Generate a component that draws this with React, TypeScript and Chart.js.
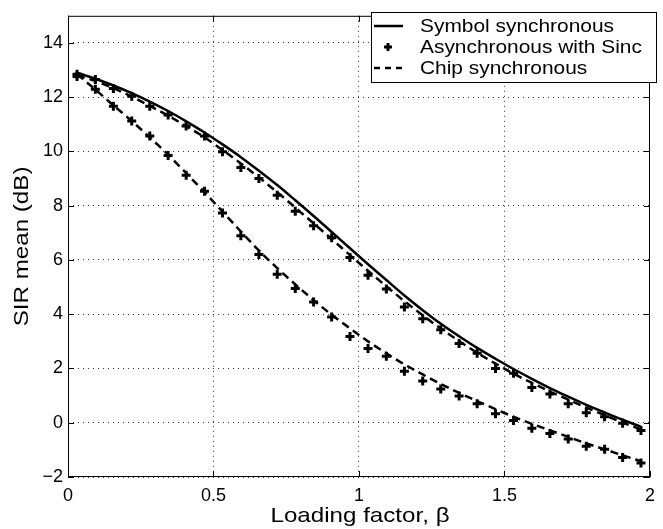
import React, { useEffect, useRef } from 'react';
import { Chart, registerables } from 'chart.js';

Chart.register(...registerables);

// Loading factor (beta) sample positions
const betaValues = [
  0.031, 0.094, 0.156, 0.219, 0.281, 0.344, 0.406, 0.469, 0.531, 0.594, 0.656, 0.719, 0.781, 0.844, 0.906, 0.969,
  1.031, 1.094, 1.156, 1.219, 1.281, 1.344, 1.406, 1.469, 1.531, 1.594, 1.656, 1.719, 1.781, 1.844, 1.906, 1.969,
];

// Symbol synchronous (solid)
const symbolSync = [
  12.9, 12.68, 12.43, 12.15, 11.84, 11.49, 11.11, 10.7, 10.26, 9.79, 9.29, 8.76, 8.2, 7.62, 7.03, 6.43,
  5.84, 5.26, 4.69, 4.15, 3.65, 3.19, 2.76, 2.36, 1.98, 1.62, 1.28, 0.96, 0.66, 0.38, 0.11, -0.15,
];

// Asynchronous with Sinc (markers), upper and lower families
const asyncUpper = [
  12.76, 12.65, 12.32, 12.03, 11.67, 11.34, 10.94, 10.57, 9.99, 9.41, 9.0, 8.39, 7.8, 7.26, 6.82, 6.09,
  5.44, 4.93, 4.27, 3.83, 3.43, 2.92, 2.56, 2.0, 1.82, 1.3, 1.06, 0.7, 0.37, 0.22, -0.02, -0.29,
];
const asyncLower = [
  12.85, 12.29, 11.67, 11.12, 10.57, 9.85, 9.12, 8.53, 7.73, 6.89, 6.2, 5.47, 4.95, 4.45, 3.9, 3.18,
  2.74, 2.45, 1.9, 1.54, 1.24, 0.99, 0.7, 0.33, 0.08, -0.2, -0.4, -0.6, -0.87, -0.98, -1.28, -1.48,
];

// Chip synchronous (dashed), upper and lower families
const chipUpper = [
  12.8, 12.6, 12.33, 12.02, 11.68, 11.32, 10.93, 10.52, 10.05, 9.56, 9.04, 8.5, 7.93, 7.35, 6.77, 6.18,
  5.6, 5.03, 4.48, 3.96, 3.47, 3.01, 2.58, 2.18, 1.81, 1.47, 1.15, 0.85, 0.56, 0.28, 0.01, -0.25,
];
const chipLower = [
  12.85, 12.28, 11.7, 11.12, 10.52, 9.88, 9.2, 8.5, 7.78, 7.05, 6.35, 5.7, 5.1, 4.52, 3.98, 3.48,
  3.0, 2.56, 2.15, 1.78, 1.43, 1.1, 0.8, 0.5, 0.22, -0.04, -0.28, -0.52, -0.76, -0.98, -1.2, -1.42,
];

const xTicks = [0, 0.5, 1, 1.5, 2];
const yTicks = [-2, 0, 2, 4, 6, 8, 10, 12, 14];
const legendLabels = ['Symbol synchronous', 'Asynchronous with Sinc', 'Chip synchronous'];
const xTitle = 'Loading factor, \u03B2';
const yTitle = 'SIR mean (dB)';

const FONT = '"Liberation Sans", Arial, Helvetica, sans-serif';

const toPoints = (ys: number[]) => betaValues.map((x, i) => ({ x, y: ys[i] }));

const decorPlugin = {
  id: 'decor',
  afterDraw(chart: any) {
    const { ctx, chartArea } = chart;
    const { left, right, top, bottom } = chartArea;
    const xs = chart.scales.x;
    const ys = chart.scales.y;
    ctx.save();
    // frame
    ctx.strokeStyle = '#000';
    ctx.lineWidth = 1;
    ctx.setLineDash([]);
    ctx.strokeRect(left + 0.5, top + 0.5, right - left - 1, bottom - top - 1);
    // inward ticks
    const tl = 6;
    ctx.beginPath();
    xTicks.forEach((v) => {
      const px = Math.round(xs.getPixelForValue(v)) + 0.5;
      ctx.moveTo(px, bottom);
      ctx.lineTo(px, bottom - tl);
      ctx.moveTo(px, top);
      ctx.lineTo(px, top + tl);
    });
    yTicks.forEach((v) => {
      const py = Math.round(ys.getPixelForValue(v)) + 0.5;
      ctx.moveTo(left, py);
      ctx.lineTo(left + tl, py);
      ctx.moveTo(right, py);
      ctx.lineTo(right - tl, py);
    });
    ctx.stroke();

    // legend
    const bx = 371, by = 12, bw = 285, bh = 70;
    ctx.fillStyle = '#fff';
    ctx.fillRect(bx, by, bw, bh);
    ctx.strokeStyle = '#000';
    ctx.lineWidth = 1;
    ctx.strokeRect(bx + 0.5, by + 0.5, bw, bh);
    const rows = [26, 47, 68];
    ctx.lineWidth = 2.5;
    // row 1 solid line
    ctx.beginPath();
    ctx.moveTo(374, rows[0]);
    ctx.lineTo(403, rows[0]);
    ctx.stroke();
    // row 2 cross marker
    ctx.lineWidth = 3;
    ctx.beginPath();
    ctx.moveTo(388 - 4, rows[1]);
    ctx.lineTo(388 + 4, rows[1]);
    ctx.moveTo(388, rows[1] - 4);
    ctx.lineTo(388, rows[1] + 4);
    ctx.stroke();
    // row 3 dashed line
    ctx.lineWidth = 2.5;
    ctx.setLineDash([6, 5]);
    ctx.beginPath();
    ctx.moveTo(374, rows[2]);
    ctx.lineTo(405, rows[2]);
    ctx.stroke();
    ctx.setLineDash([]);
    // legend text
    ctx.fillStyle = '#000';
    ctx.font = `19px ${FONT}`;
    ctx.textBaseline = 'middle';
    ctx.textAlign = 'left';
    legendLabels.forEach((t, i) => {
      ctx.save();
      ctx.translate(420, rows[i] + 1);
      ctx.scale(1.1, 1);
      ctx.fillText(t, 0, 0);
      ctx.restore();
    });

    // axis titles
    ctx.font = `21px ${FONT}`;
    ctx.textBaseline = 'alphabetic';
    ctx.textAlign = 'center';
    ctx.save();
    ctx.translate((left + right) / 2 + 1, 522);
    ctx.scale(1.15, 1);
    ctx.fillText(xTitle, 0, 0);
    ctx.restore();

    ctx.save();
    ctx.translate(28, (top + bottom) / 2);
    ctx.rotate(-Math.PI / 2);
    ctx.scale(1.15, 1);
    ctx.fillText(yTitle, 0, 0);
    ctx.restore();

    ctx.restore();
  },
};

export default function App() {
  const canvasRef = useRef<HTMLCanvasElement | null>(null);

  useEffect(() => {
    document.body.style.margin = '0';
    const canvas = canvasRef.current;
    if (!canvas) return;

    const lineCommon = {
      pointRadius: 0,
      showLine: true,
      fill: false,
      borderColor: '#000',
      backgroundColor: '#000',
      borderWidth: 2.5,
      cubicInterpolationMode: 'monotone' as const,
      order: 2,
    };
    const markerCommon = {
      showLine: false,
      pointStyle: 'cross' as const,
      pointRadius: 4.5,
      pointBorderWidth: 3,
      borderColor: '#000',
      backgroundColor: '#000',
      pointBorderColor: '#000',
      order: 1,
    };

    const chart = new Chart(canvas, {
      type: 'scatter',
      data: {
        datasets: [
          { label: legendLabels[0], data: toPoints(symbolSync), ...lineCommon },
          { label: legendLabels[1], data: toPoints(asyncUpper), ...markerCommon },
          { label: legendLabels[1] + ' (2)', data: toPoints(asyncLower), ...markerCommon },
          { label: legendLabels[2], data: toPoints(chipUpper), ...lineCommon, borderDash: [8, 5] },
          { label: legendLabels[2] + ' (2)', data: toPoints(chipLower), ...lineCommon, borderDash: [8, 5] },
        ] as any,
      },
      options: {
        animation: false,
        responsive: false,
        devicePixelRatio: 1,
        layout: { padding: { left: 0, right: 2, top: 10, bottom: 0 } },
        plugins: {
          legend: { display: false },
          tooltip: { enabled: false },
        },
        scales: {
          x: {
            type: 'linear',
            min: 0,
            max: 2,
            afterBuildTicks: (scale: any) => {
              scale.ticks = xTicks.map((v) => ({ value: v }));
            },
            afterFit: (scale: any) => {
              scale.height = 52;
            },
            ticks: {
              padding: 8,
              color: '#000',
              font: { family: FONT, size: 18 },
              maxRotation: 0,
              autoSkip: false,
              callback: (v: any) => String(v),
            },
            grid: {
              color: '#333',
              lineWidth: 1,
              drawTicks: false,
            },
            border: { display: false, dash: [1, 4] },
          },
          y: {
            type: 'linear',
            min: -2,
            max: 15,
            afterBuildTicks: (scale: any) => {
              scale.ticks = yTicks.map((v) => ({ value: v }));
            },
            afterFit: (scale: any) => {
              scale.width = 68;
            },
            ticks: {
              padding: 5,
              color: '#000',
              font: { family: FONT, size: 18 },
              autoSkip: false,
              callback: (v: any) => (Number(v) < 0 ? '\u2212' + Math.abs(Number(v)) : String(v)),
            },
            grid: {
              color: '#333',
              lineWidth: 1,
              drawTicks: false,
            },
            border: { display: false, dash: [1, 4] },
          },
        },
      },
      plugins: [decorPlugin],
    });

    return () => {
      chart.destroy();
    };
  }, []);

  return (
    <div style={{ width: 663, height: 529 }}>
      <canvas ref={canvasRef} width={663} height={529} style={{ display: 'block' }} />
    </div>
  );
}
